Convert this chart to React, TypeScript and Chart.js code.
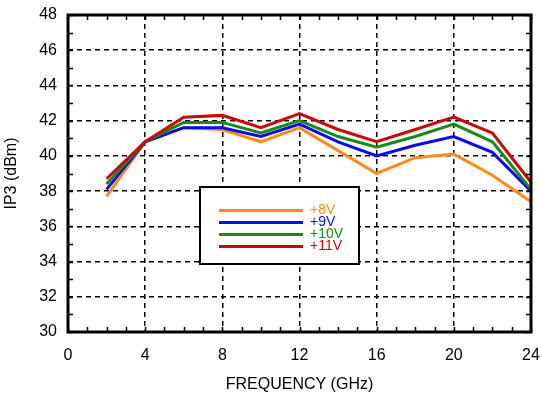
import React, { useEffect, useRef } from "react";
import { Chart, registerables } from "chart.js";

Chart.register(...registerables);

// ---- data ----
const FREQS = [2, 4, 6, 8, 10, 12, 14, 16, 18, 20, 22, 24];
const V8 = [37.7, 40.8, 41.6, 41.5, 40.8, 41.6, 40.3, 39.0, 39.9, 40.1, 38.9, 37.4];
const V9 = [38.1, 40.8, 41.6, 41.6, 41.1, 41.8, 40.8, 40.0, 40.6, 41.1, 40.2, 38.0];
const V10 = [38.4, 40.8, 41.9, 41.9, 41.3, 42.0, 41.1, 40.5, 41.1, 41.8, 40.8, 38.1];
const V11 = [38.7, 40.8, 42.2, 42.3, 41.6, 42.4, 41.5, 40.8, 41.5, 42.2, 41.3, 38.5];
const SERIES_LABELS = ["+8V", "+9V", "+10V", "+11V"];
const SERIES_COLORS = ["#FF8C1A", "#0A0AEE", "#178A17", "#C80A0A"];
const X_MIN = 0, X_MAX = 24, X_STEP = 4, X_MINOR = 1;
const Y_MIN = 30, Y_MAX = 48, Y_STEP = 2, Y_MINOR = 1;
const X_TITLE = "FREQUENCY (GHz)";
const Y_TITLE = "IP3 (dBm)";

const FONT = "'Liberation Sans', Arial, Helvetica, sans-serif";

const framePlugin = {
  id: "frameTicks",
  afterDatasetsDraw(chart: any) {
    const { ctx, chartArea: a, scales } = chart;
    ctx.save();
    ctx.strokeStyle = "#000";
    ctx.lineWidth = 1.5;
    ctx.setLineDash([]);
    ctx.beginPath();
    for (let v = X_MIN; v <= X_MAX; v += X_MINOR) {
      const px = Math.round(scales.x.getPixelForValue(v)) + 0.5;
      ctx.moveTo(px, a.bottom);
      ctx.lineTo(px, a.bottom - 5);
      ctx.moveTo(px, a.top);
      ctx.lineTo(px, a.top + 5);
    }
    for (let v = Y_MIN; v <= Y_MAX; v += Y_MINOR) {
      const py = Math.round(scales.y.getPixelForValue(v)) + 0.5;
      ctx.moveTo(a.left, py);
      ctx.lineTo(a.left + 5, py);
      ctx.moveTo(a.right, py);
      ctx.lineTo(a.right - 5, py);
    }
    ctx.stroke();
    ctx.lineWidth = 3;
    ctx.strokeRect(a.left, a.top, a.right - a.left, a.bottom - a.top);
    ctx.restore();
  },
};

const legendPlugin = {
  id: "boxLegend",
  afterDraw(chart: any) {
    const { ctx } = chart;
    const bx = 200, by = 187, bw = 159, bh = 77;
    ctx.save();
    ctx.fillStyle = "#fff";
    ctx.fillRect(bx, by, bw, bh);
    ctx.strokeStyle = "#000";
    ctx.lineWidth = 2;
    ctx.setLineDash([]);
    ctx.strokeRect(bx, by, bw, bh);
    ctx.font = `14px ${FONT}`;
    ctx.textBaseline = "middle";
    ctx.textAlign = "left";
    SERIES_LABELS.forEach((lab, i) => {
      const y = by + 23.5 + i * 12;
      ctx.strokeStyle = SERIES_COLORS[i];
      ctx.lineWidth = 3;
      ctx.beginPath();
      ctx.moveTo(bx + 19, y);
      ctx.lineTo(bx + 103, y);
      ctx.stroke();
      ctx.fillStyle = SERIES_COLORS[i];
      ctx.fillText(lab, bx + 110, y - 0.5);
    });
    ctx.restore();
  },
};

export default function App() {
  const ref = useRef<HTMLCanvasElement | null>(null);

  useEffect(() => {
    document.body.style.margin = "0";
    if (!ref.current) return;
    const all = [V8, V9, V10, V11];
    const chart = new Chart(ref.current, {
      type: "line",
      data: {
        datasets: all.map((vals, i) => ({
          label: SERIES_LABELS[i],
          data: FREQS.map((f, j) => ({ x: f, y: vals[j] })),
          borderColor: SERIES_COLORS[i],
          backgroundColor: SERIES_COLORS[i],
          borderWidth: 3,
          pointRadius: 0,
          tension: 0,
          fill: false,
          order: all.length - 1 - i,
        })),
      },
      options: {
        animation: false,
        responsive: true,
        maintainAspectRatio: false,
        layout: { padding: { left: 0, right: 11, top: 15, bottom: 0 } },
        plugins: { legend: { display: false }, tooltip: { enabled: false } },
        scales: {
          x: {
            type: "linear",
            min: X_MIN,
            max: X_MAX,
            afterFit: (s: any) => { s.height = 63; s.paddingLeft = 0; s.paddingRight = 0; },
            ticks: { stepSize: X_STEP, color: "#000", font: { family: FONT, size: 16 }, padding: 14, maxRotation: 0 },
            grid: { color: "#000", lineWidth: 1.5, drawTicks: false },
            border: { display: false, dash: [5, 4] },
            title: { display: true, text: X_TITLE, color: "#000", font: { family: FONT, size: 16 }, padding: { top: 0, bottom: 1 } },
          },
          y: {
            type: "linear",
            min: Y_MIN,
            max: Y_MAX,
            afterFit: (s: any) => { s.width = 68; s.paddingTop = 0; s.paddingBottom = 0; },
            ticks: { stepSize: Y_STEP, color: "#000", font: { family: FONT, size: 16 }, padding: 11 },
            grid: { color: "#000", lineWidth: 1.5, drawTicks: false },
            border: { display: false, dash: [5, 4] },
            title: { display: true, text: Y_TITLE, color: "#000", font: { family: FONT, size: 16 }, padding: { top: 2, bottom: 0 } },
          },
        },
      },
      plugins: [framePlugin, legendPlugin],
    });
    return () => chart.destroy();
  }, []);

  return (
    <div style={{ position: "relative", width: 542, height: 395 }}>
      <canvas ref={ref} />
    </div>
  );
}
